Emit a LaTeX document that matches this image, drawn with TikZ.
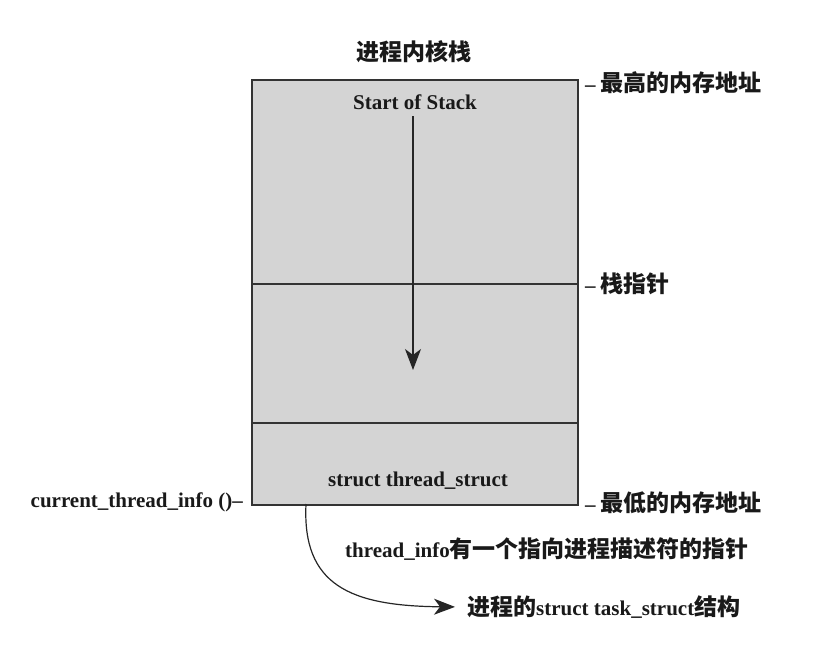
\documentclass[tikz,border=0pt]{standalone}
\usepackage{fontspec}
\setmainfont{Liberation Serif}
\newfontfamily\cjk{Noto Sans CJK SC}
\usetikzlibrary{arrows.meta}
\usetikzlibrary{positioning}
\tikzstyle{lbl} = [inner sep=0pt, text=black!90, font=\fontsize{21}{25}\selectfont\bfseries]
\tikzstyle{cjklbl} = [inner sep=0pt, text=black!90, font=\fontsize{23}{27}\selectfont\cjk\bfseries]
\tikzstyle{stackbox} = [rectangle, draw=black!80, line width=2pt, fill=black!17, minimum width=326pt, minimum height=425pt]
\tikzstyle{divider} = [draw=black!80, line width=2pt]
\tikzstyle{pointer} = [draw=black!85, line width=1.2pt, -{Stealth[length=21pt,width=16pt,inset=6pt]}]

\begin{document}
\begin{tikzpicture}[x=1pt,y=-1pt]
  \useasboundingbox (0,0) rectangle (832,650);

  % the kernel stack
  \node (title) [cjklbl] at (414,52) {进程内核栈};
  \node (stack) [stackbox, anchor=north west] at (251,79) {};
  \draw[divider] (251,284) -- (577,284);
  \draw[divider] (251,423) -- (577,423);

  \node (start) [lbl, below=16pt of stack.north] {Start of Stack};
  \coordinate (sp) at (413,370);
  \draw[pointer] (start.south -| sp) ++(0,6) -- (sp);
  \node (thread) [lbl] at (418,481) {struct thread\_struct};

  % addresses
  \node (high) [lbl, anchor=west] at (585,83) {\textendash\ {\cjk\fontsize{23}{27}\selectfont 最高的内存地址}};
  \node (stkptr) [lbl, anchor=west] at (585,284) {\textendash\ {\cjk\fontsize{23}{27}\selectfont 栈指针}};
  \node (low) [lbl, anchor=west] at (585,503) {\textendash\ {\cjk\fontsize{23}{27}\selectfont 最低的内存地址}};
  \node (cti) [lbl, anchor=east] at (243,502) {current\_thread\_info ()\textendash};

  % pointer to the task
  \node (note) [lbl, anchor=west] at (345,549) {thread\_info{\cjk\fontsize{23}{27}\selectfont 有一个指向进程描述符的指针}};
  \coordinate (tail) at (306,504);
  \node (task) [lbl, anchor=west] at (467,607) {{\cjk\fontsize{23}{27}\selectfont 进程的}struct task\_struct{\cjk\fontsize{23}{27}\selectfont 结构}};
  \draw[pointer, shorten >=12pt] (tail) .. controls (302,585) and (350,606) .. (task.west);
\end{tikzpicture}
\end{document}
